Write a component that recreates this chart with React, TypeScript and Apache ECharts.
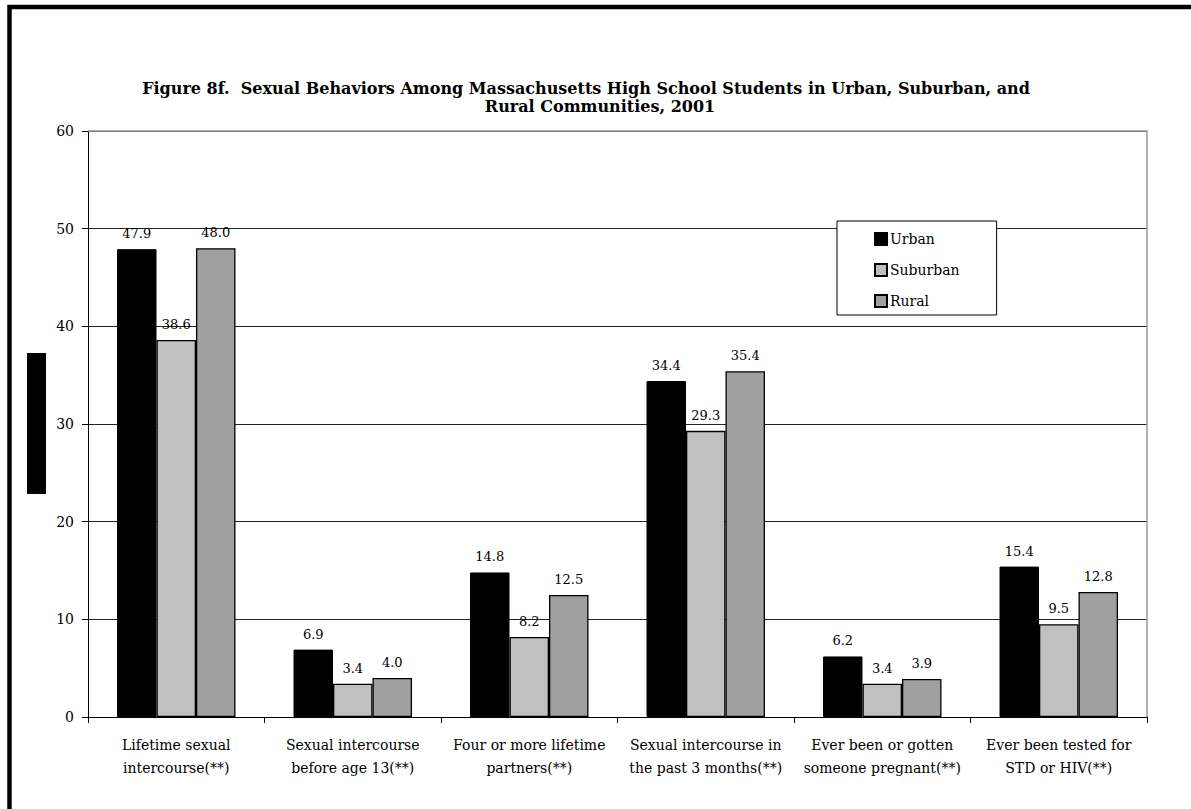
import React, { useEffect, useRef } from "react";
import * as echarts from "echarts";

const categories = [
  "Lifetime sexual\nintercourse(**)",
  "Sexual intercourse\nbefore age 13(**)",
  "Four or more lifetime\npartners(**)",
  "Sexual intercourse in\nthe past 3 months(**)",
  "Ever been or gotten\nsomeone pregnant(**)",
  "Ever been tested for\nSTD or HIV(**)",
];
const urban = [47.9, 6.9, 14.8, 34.4, 6.2, 15.4];
const suburban = [38.6, 3.4, 8.2, 29.3, 3.4, 9.5];
const rural = [48.0, 4.0, 12.5, 35.4, 3.9, 12.8];
const seriesNames = ["Urban", "Suburban", "Rural"];
const titleLines = [
  "Figure 8f.  Sexual Behaviors Among Massachusetts High School Students in Urban, Suburban, and",
  "Rural Communities, 2001",
];

const FONT = "DejaVu Serif";

export default function App() {
  const ref = useRef<HTMLDivElement>(null);
  useEffect(() => {
    if (!ref.current) return;
    const chart = echarts.init(ref.current, null, { renderer: "svg" });
    const mk = (name: string, data: number[], color: string, border: string, bw: number) => ({
      name,
      type: "bar",
      data,
      barWidth: 39.5,
      barGap: "0%",
      itemStyle: { color, borderColor: border, borderWidth: bw },
      label: {
        show: true,
        position: "top",
        distance: 9,
        formatter: (p: any) => Number(p.value).toFixed(1),
        fontFamily: FONT,
        fontSize: 13,
        color: "#000",
      },
    });
    chart.setOption({
      animation: false,
      backgroundColor: "#fff",
      textStyle: { fontFamily: FONT },
      grid: { left: 88, top: 131, right: 44, bottom: 92, containLabel: false },
      legend: {
        data: seriesNames,
        orient: "vertical",
        left: 837,
        top: 221,
        padding: [11, 37, 7, 37],
        itemGap: 17,
        itemWidth: 12,
        itemHeight: 12,
        icon: "rect",
        backgroundColor: "#fff",
        borderColor: "#000",
        borderWidth: 1,
        textStyle: { fontFamily: FONT, fontSize: 14, color: "#000", padding: [0, 0, 0, -2] },
      },
      xAxis: {
        type: "category",
        data: categories,
        axisLine: { show: true, lineStyle: { color: "#000", width: 1 } },
        axisTick: { show: true, length: 6, alignWithLabel: false, lineStyle: { color: "#000" } },
        axisLabel: {
          fontFamily: FONT,
          fontSize: 14,
          color: "#000",
          margin: 16,
          lineHeight: 23,
          interval: 0,
        },
      },
      yAxis: {
        type: "value",
        min: 0,
        max: 60,
        interval: 10,
        axisLine: { show: true, lineStyle: { color: "#000", width: 1 } },
        axisTick: { show: true, length: 6, lineStyle: { color: "#000" } },
        axisLabel: { fontFamily: FONT, fontSize: 14, color: "#000", margin: 14 },
        splitLine: { show: true, lineStyle: { color: "#222", width: 1 } },
      },
      series: [
        mk(seriesNames[0], urban, "#000000", "#000000", 1),
        mk(seriesNames[1], suburban, "#C0C0C0", "#000000", 1.3),
        mk(seriesNames[2], rural, "#A0A0A0", "#000000", 1.3),
      ],
      graphic: [
        {
          type: "rect",
          z: 100,
          shape: { x: 9.5, y: 7, width: 1300, height: 1000 },
          style: { fill: "none", stroke: "#000", lineWidth: 4.5 },
          silent: true,
        },
        {
          type: "rect",
          z: 100,
          shape: { x: 27, y: 353, width: 19, height: 141 },
          style: { fill: "#000" },
        },
        {
          type: "polyline",
          z: 100,
          shape: { points: [[88, 131], [1147, 131], [1147, 717]] },
          style: { stroke: "#999", lineWidth: 1.5, fill: "none" },
        },
        {
          type: "text",
          z: 100,
          x: 586,
          y: 88,
          style: {
            text: titleLines[0],
            fontFamily: FONT,
            fontWeight: "bold",
            fontSize: 16,
            fill: "#000",
            align: "center",
            verticalAlign: "middle",
          },
        },
        {
          type: "text",
          z: 100,
          x: 600,
          y: 106,
          style: {
            text: titleLines[1],
            fontFamily: FONT,
            fontWeight: "bold",
            fontSize: 16,
            fill: "#000",
            align: "center",
            verticalAlign: "middle",
          },
        },
      ],
    });
    return () => chart.dispose();
  }, []);
  return (
    <div
      ref={ref}
      style={{ position: "absolute", left: 0, top: 0, width: 1191, height: 809 }}
    />
  );
}
